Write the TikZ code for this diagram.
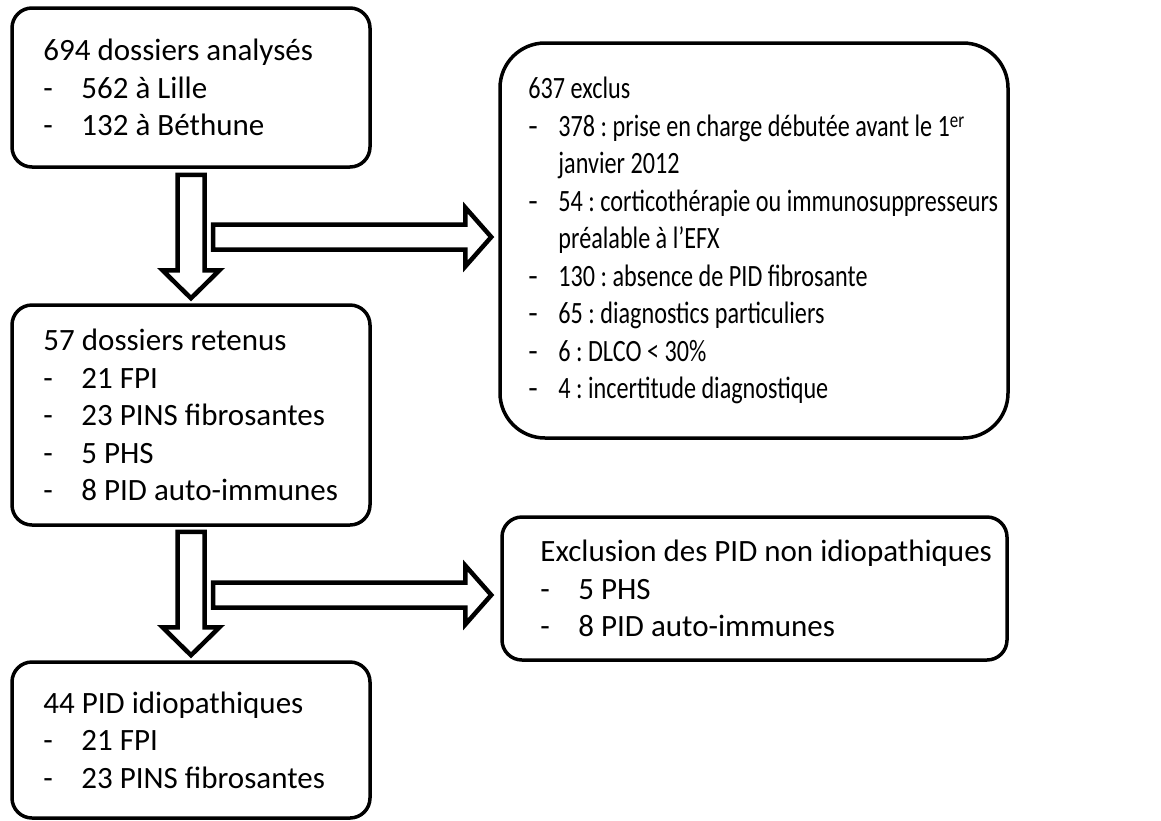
\documentclass[tikz,border=0pt]{standalone}
\usepackage{fontspec}
\setmainfont{Carlito}
\usepackage{graphicx}
\usepackage{tikz}
\usetikzlibrary{calc}
\frenchspacing

% item line: dash, then indented text
\newcommand{\itm}[2][38pt]{\makebox[#1][l]{-}#2}
% condensed lines of the exclusion list
\newcommand{\cond}[1]{\scalebox{0.78}[1]{#1}}
\newcommand{\citm}[1]{\makebox[30pt][l]{-}\cond{#1}}
\newcommand{\ccont}[1]{\hspace*{30pt}\cond{#1}}
% vertical and horizontal block arrows: tail, tip
\newcommand{\varrow}[2]{%
  \draw[blockarr] ($(#1)+(-13.5,0)$) -- ($(#2)+(-13.5,-28)$) -- ($(#2)+(-28.5,-28)$) -- (#2)
    -- ($(#2)+(28.5,-28)$) -- ($(#2)+(13.5,-28)$) -- ($(#1)+(13.5,0)$) -- cycle;}
\newcommand{\harrow}[2]{%
  \draw[blockarr] ($(#1)+(0,-12.5)$) -- ($(#2)+(-26,-12.5)$) -- ($(#2)+(-26,-29.5)$) -- (#2)
    -- ($(#2)+(-26,29.5)$) -- ($(#2)+(-26,12.5)$) -- ($(#1)+(0,12.5)$) -- cycle;}

\begin{document}
\begin{tikzpicture}[x=1pt, y=-1pt,
    box/.style={rectangle, rounded corners=20pt, draw=black, line width=3.5pt,
                fill=white, inner sep=0pt},
    txt/.style={anchor=west, align=left, inner sep=0pt,
                font=\fontsize{31}{37.5}\selectfont},
    blockarr/.style={draw=black, fill=white, line width=4.5pt, line join=miter}
]
\useasboundingbox (0,0) rectangle (1161,820);

\node[box, minimum width=358pt, minimum height=159pt] (dossiers)  at (191,87.5)  {};
\node[box, minimum width=358pt, minimum height=220pt] (retenus)   at (191,415)   {};
\node[box, minimum width=358pt, minimum height=156pt] (idio)      at (191,740)   {};
\node[box, rounded corners=45pt, minimum width=508pt, minimum height=395pt] (exclus) at (754,240.5) {};
\node[box, minimum width=505pt, minimum height=143pt] (exclusion) at (754.5,588.5) {};

\node[txt] (tdossiers) at ([xshift=33pt]dossiers.west)
  {694 dossiers analysés\\ \itm{562 à Lille}\\ \itm{132 à Béthune}};
\node[txt] (tretenus) at ([xshift=33pt]retenus.west)
  {57 dossiers retenus\\ \itm{21 FPI}\\ \itm{23 PINS fibrosantes}\\ \itm{5 PHS}\\ \itm{8 PID auto-immunes}};
\node[txt] (tidio) at ([xshift=33pt]idio.west)
  {44 PID idiopathiques\\ \itm{21 FPI}\\ \itm{23 PINS fibrosantes}};
\node[txt] (texclus) at ([xshift=30pt]exclus.west)
  {\cond{637 exclus}\\
   \citm{378 : prise en charge débutée avant le 1\textsuperscript{er}}\\
   \ccont{janvier 2012}\\
   \citm{54 : corticothérapie ou immunosuppresseurs}\\
   \ccont{préalable à l’EFX}\\
   \citm{130 : absence de PID fibrosante}\\
   \citm{65 : diagnostics particuliers}\\
   \citm{6 : DLCO < 30\%}\\
   \citm{4 : incertitude diagnostique}};
\node[txt] (texclusion) at ([xshift=40pt]exclusion.west)
  {Exclusion des PID non idiopathiques\\ \itm{5 PHS}\\ \itm{8 PID auto-immunes}};

\coordinate (d1) at ([yshift=-6pt]dossiers.south);
\coordinate (d2) at ([yshift=5pt]retenus.north);
\coordinate (d3) at ([yshift=-5pt]retenus.south);
\coordinate (d4) at ([yshift=5pt]idio.north);
\coordinate (h1) at (213,237);
\coordinate (h2) at (213,595);

\varrow{d1}{d2}
\varrow{d3}{d4}
\harrow{h1}{[xshift=-7pt]exclus.west |- h1}
\harrow{h2}{[xshift=-9pt]exclusion.west |- h2}

\end{tikzpicture}
\end{document}
